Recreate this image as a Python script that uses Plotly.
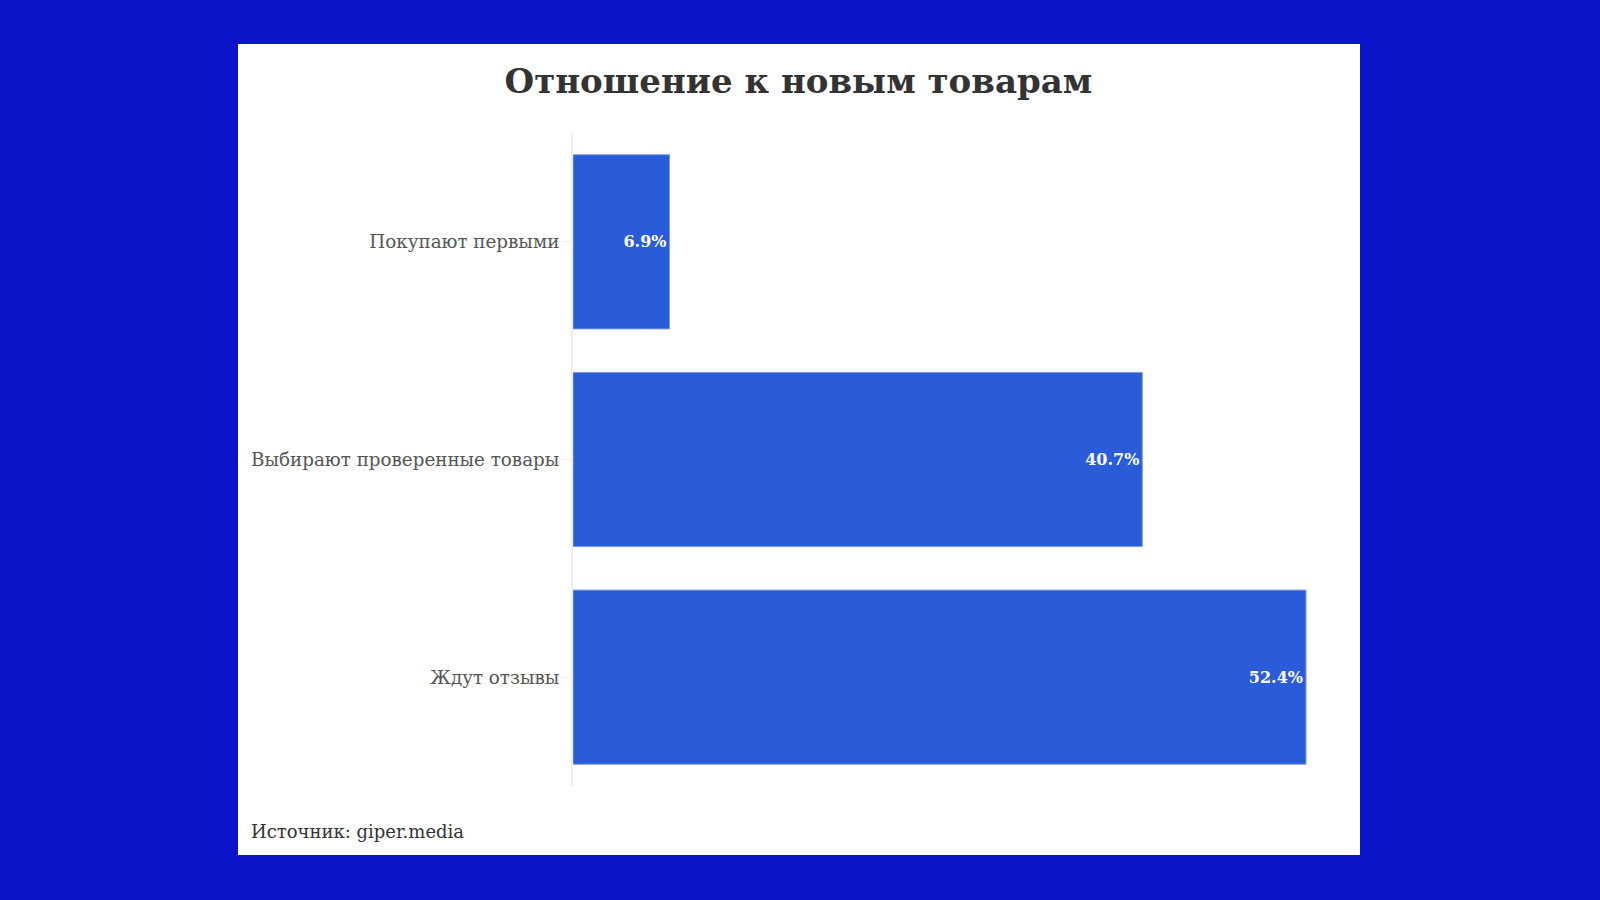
import plotly.graph_objs as go

# data
categories = ['Покупают первыми', 'Выбирают проверенные товары', 'Ждут отзывы']
shares = [6.9, 40.7, 52.4]
labels = [f'{v}%' for v in shares]

title = 'Отношение к новым товарам'
source = 'Источник: giper.media'

SERIF = 'DejaVu Serif'
BAR_COLOR = '#2a5bd9'
PAGE_BLUE = '#0b14c9'

# pixel layout of the plot area inside a 1600x900 page
L, R, T, B = 573, 1320, 133, 786
W, H = R - L, B - T


def px_x(px):
    return (px - L) / W


def px_y(py):
    return (B - py) / H


fig = go.Figure()

fig.add_trace(go.Bar(
    x=shares,
    y=categories,
    orientation='h',
    text=labels,
    textposition='inside',
    insidetextanchor='end',
    textfont={'family': SERIF, 'size': 16, 'color': 'white', 'weight': 'bold'},
    marker={'color': BAR_COLOR, 'line': {'color': '#7d9be6', 'width': 1}},
    hoverinfo='x+y',
))

fig.update_layout(
    width=1600, height=900,
    margin={'l': L, 'r': 1600 - R, 't': T, 'b': 900 - B},
    paper_bgcolor=PAGE_BLUE,
    plot_bgcolor='rgba(0,0,0,0)',
    bargap=0.2,
    showlegend=False,
    title={
        'text': f'<b>{title}</b>',
        'x': 0.499, 'xanchor': 'center',
        'y': 1 - 81 / 900, 'yanchor': 'middle',
        'font': {'family': SERIF, 'size': 34, 'color': '#333333'},
    },
    xaxis={
        'range': [0, 52.4 * W / (1306 - L)],
        'showgrid': False, 'zeroline': False, 'showticklabels': False,
        'fixedrange': True,
    },
    yaxis={
        'autorange': 'reversed',
        'showline': True, 'linecolor': '#eeeeee', 'linewidth': 2,
        'ticks': 'outside', 'ticklen': 8, 'tickcolor': '#eeeeee',
        'tickfont': {'family': SERIF, 'size': 18.3, 'color': '#555555'},
        'showgrid': False,
    },
    shapes=[{
        'type': 'rect', 'xref': 'paper', 'yref': 'paper', 'layer': 'below',
        'x0': px_x(238), 'x1': px_x(1360), 'y0': px_y(855), 'y1': px_y(44),
        'fillcolor': 'white', 'line': {'width': 0},
    }],
    annotations=[{
        'text': source, 'xref': 'paper', 'yref': 'paper',
        'x': px_x(249), 'y': px_y(832), 'xanchor': 'left', 'yanchor': 'middle',
        'showarrow': False,
        'font': {'family': SERIF, 'size': 18, 'color': '#333333'},
    }],
)

# drop the browser's default body margin so the blue page fills the window
fig.write_html(
    'out.html',
    config={'displayModeBar': False},
    post_script="document.body.style.margin='0';"
                f"document.body.style.background='{PAGE_BLUE}';",
)
